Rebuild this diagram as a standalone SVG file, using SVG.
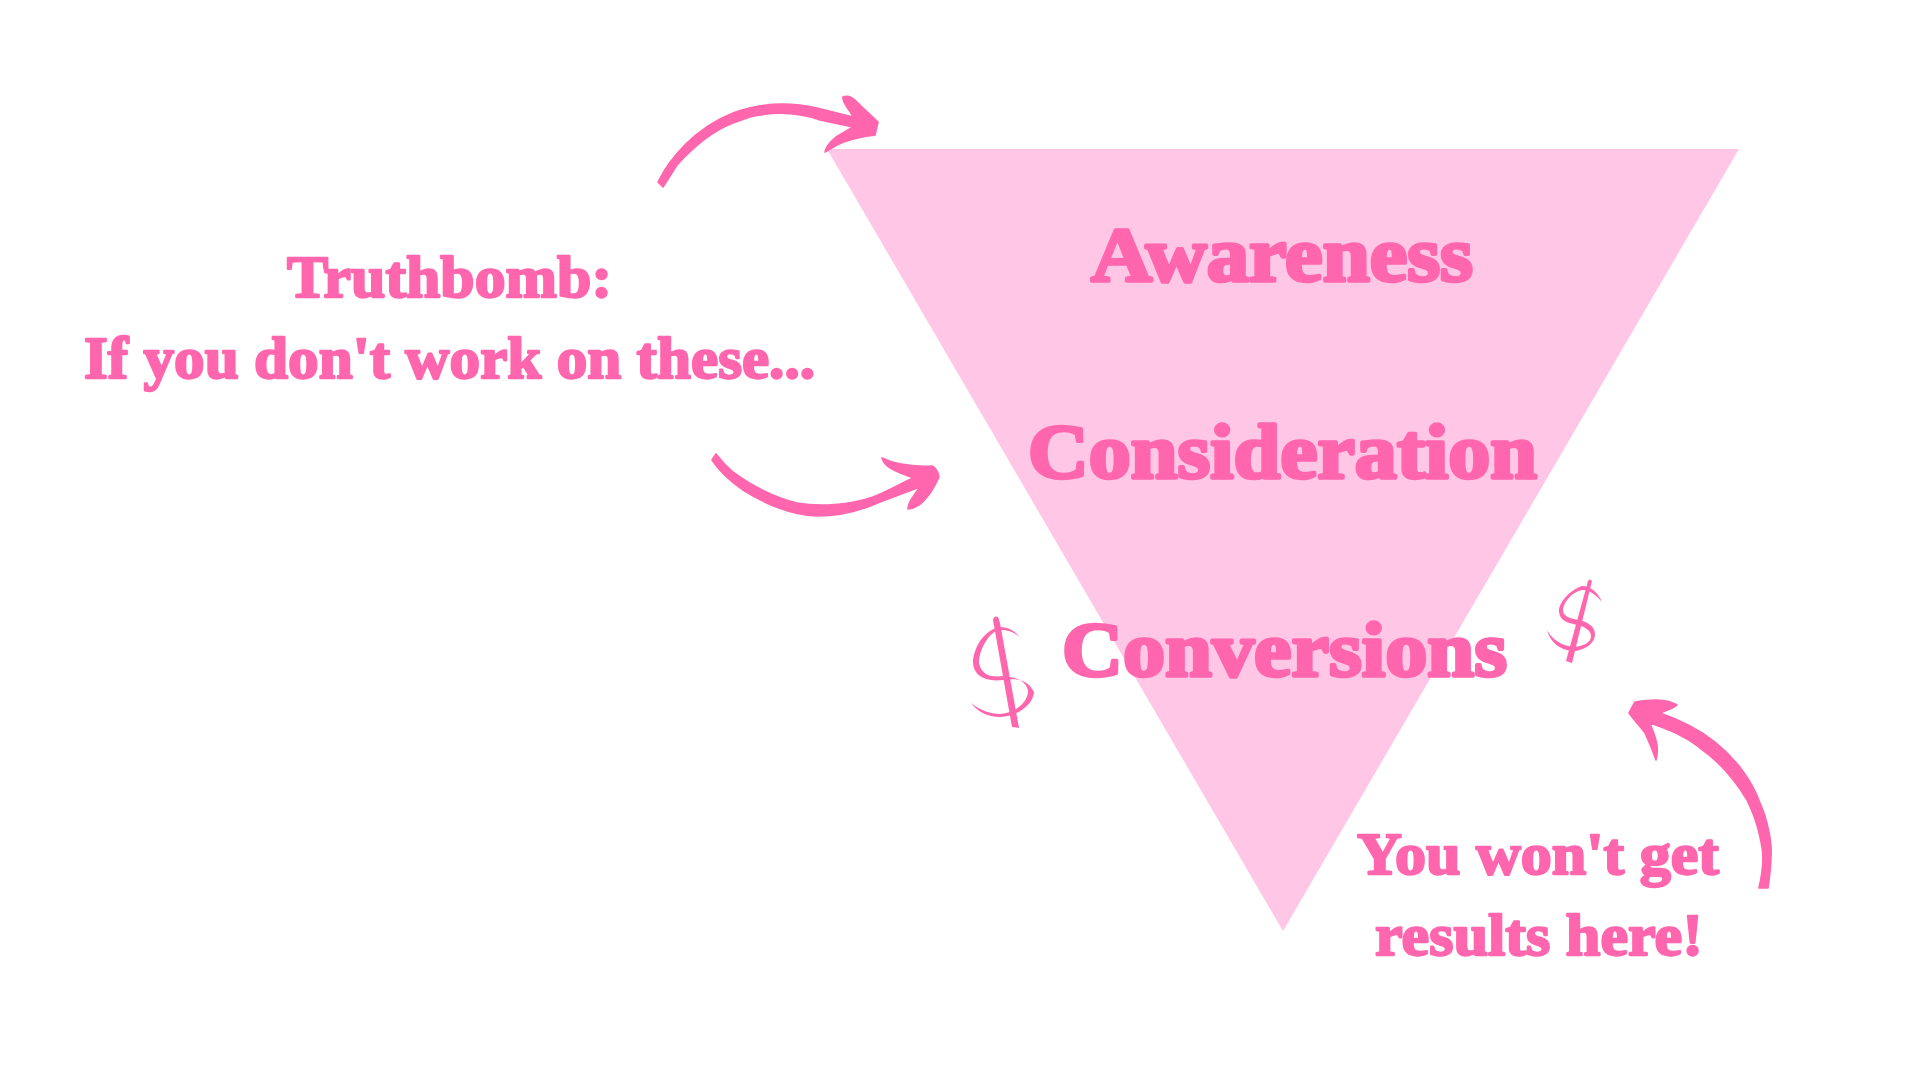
<svg xmlns="http://www.w3.org/2000/svg" width="1920" height="1080" viewBox="0 0 1920 1080">
<style>
.t{font-family:"Liberation Serif","DejaVu Serif",serif;font-weight:700;fill:#ff66ad;stroke:#ff66ad;text-anchor:start;stroke-linejoin:round}
.l{font-size:79px;stroke-width:3.6px}
.m{font-size:60px;stroke-width:2.3px}
.a{fill:#ff66ad}
.w{stroke:#ff66ad;stroke-width:1.6px;stroke-linejoin:round}
.d{stroke:#ff66ad;stroke-linecap:round;fill:none}
</style>
<rect width="1920" height="1080" fill="#fff"/>
<g id="funnel"><polygon points="827,149 1739,149 1283,931" fill="#ffc6e6"/></g>
<g id="awareness"><text class="t l" x="1091" y="281" textLength="382" lengthAdjust="spacingAndGlyphs">Awareness</text></g>
<g id="consideration"><text class="t l" x="1028" y="478" textLength="509" lengthAdjust="spacingAndGlyphs">Consideration</text></g>
<g id="conversions"><text class="t l" x="1062" y="676" textLength="445" lengthAdjust="spacingAndGlyphs">Conversions</text></g>
<g id="truthbomb"><text class="t m" x="287" y="297" textLength="325" lengthAdjust="spacingAndGlyphs">Truthbomb:</text>
<text class="t m" x="84" y="378" textLength="731" lengthAdjust="spacingAndGlyphs">If you don't work on these...</text></g>
<g id="results"><text class="t m" x="1357" y="874" textLength="362" lengthAdjust="spacingAndGlyphs">You won't get</text>
<text class="t m" x="1375" y="955" textLength="328" lengthAdjust="spacingAndGlyphs">results here!</text></g>
<g id="dollar-left">
<path class="a" d="M993,620Q994,615 998,617L1000,623L1019,728L1012,727Z"/>
<path class="a" d="M1021,638C1012,628 1004,626 996,628C982,633 973,650 973,663C974,676 985,682 1003,680C1018,678 1028,680 1034,692C1033,705 1018,716 1000,717C988,717 978,712 971,703C980,710 990,714 1000,714C1015,713 1027,703 1028,692C1028,683 1018,677 1003,676C990,678 981,674 979,663C979,650 988,634 998,630C1006,629 1014,632 1021,638Z"/>
</g>
<g id="dollar-right">
<path class="a" d="M1588,581Q1590,578 1592,581L1572,663L1566,661Z"/>
<path class="a" d="M1602,602C1598,592 1590,586 1582,586C1570,590 1558,603 1559,612C1560,622 1570,623 1577,625C1586,627 1591,631 1591,636C1591,643 1582,647 1572,647C1562,645 1552,640 1547,630C1550,642 1560,650 1572,651C1585,651 1595,643 1595,634C1595,626 1586,621 1578,620C1568,618 1564,616 1563,611C1563,602 1573,591 1583,590C1590,590 1597,596 1602,602Z"/>
</g>
<g id="connectors">
<path class="a w" d="M658,182C670,158 695,128 733,113C760,103 790,102 817,108L853,117C850,110 842,103 843,97C850,94 855,100 860,105L878,122L875,135C860,137 845,141 837,145L825,152C826,146 830,142 836,137L853,127L820,120C800,113 775,111 750,117L733,123C715,130 695,145 677,165L663,187Z"/>
<path class="a w" d="M716,454C722,462 727,467 733,472C750,485 775,498 797,503C820,507 850,505 873,497C887,492 900,484 913,478C905,474 885,470 882,458C892,463 910,467 932,466C936,468 938,472 939,477C935,485 932,492 927,497C922,504 917,508 908,509C908,503 914,495 920,487L880,502C860,511 838,516 817,516C790,515 762,502 743,490C730,481 720,472 712,460Z"/>
<path class="a w" d="M1759,888C1763,870 1764,858 1762,847C1758,825 1754,815 1747,800C1735,780 1720,762 1700,748C1685,736 1670,730 1650,723C1654,735 1660,745 1656,760C1652,748 1648,740 1645,733C1640,726 1634,720 1629,713L1635,702C1648,700 1665,698 1677,705C1672,709 1668,710 1660,713C1680,720 1700,730 1715,742C1735,758 1752,780 1760,803C1768,820 1772,845 1771,855C1771,868 1769,880 1768,888Z"/>
</g>
</svg>
